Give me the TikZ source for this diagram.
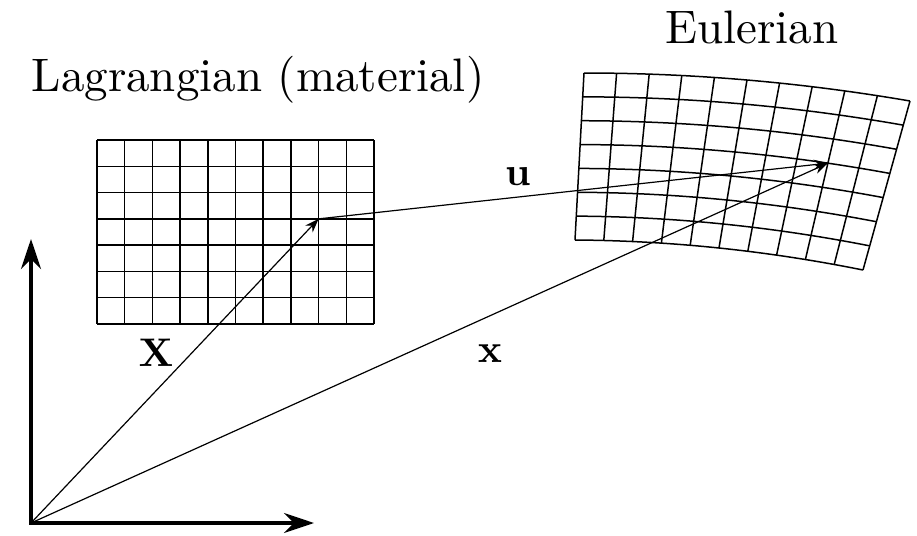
\documentclass[tikz,border=0pt]{standalone}
\usetikzlibrary{arrows.meta}

\begin{document}
\begin{tikzpicture}[x=0.5pt,y=-0.5pt,
    meshline/.style={line width=0.75pt},
    vec/.style={line width=0.6pt,-{Stealth[length=7pt,width=5pt]}},
    axisline/.style={line width=1.6pt,
      {Stealth[length=15pt,width=10pt]}-{Stealth[length=15pt,width=10pt]}},
    heading/.style={scale=2.35,anchor=base,inner sep=0pt},
    veclabel/.style={scale=2,anchor=base,inner sep=0pt},
    declare function={
      eulx(\a,\b)=(1-\a)*(1-\b)*584+\a*(1-\b)*910+\a*\b*863+(1-\a)*\b*575;
      euly(\a,\b)=(1-\a)*(1-\b)*73+\a*(1-\b)*101+\a*\b*270+(1-\a)*\b*240-28*\a*(1-\a);}]
  \useasboundingbox (0,0) rectangle (917,536);
  \foreach \i in {0,...,10}
    \draw[meshline] ({97+27.7*\i},140) -- ({97+27.7*\i},324);
  \foreach \j in {0,...,7}
    \draw[meshline] (97,{140+184/7*\j}) -- (374,{140+184/7*\j});
  \foreach \i in {0,...,10}
    \draw[meshline] ({eulx(\i/10,0)},{euly(\i/10,0)}) -- ({eulx(\i/10,1)},{euly(\i/10,1)});
  \foreach \j in {0,...,7}
    \draw[meshline] plot[domain=0:1,samples=30,variable=\a] ({eulx(\a,\j/7)},{euly(\a,\j/7)});
  \node[heading] (lagrange) at (258,91) {Lagrangian (material)};
  \node[heading] (euler) at (752,43) {Eulerian};
  \coordinate (origin) at (31,523);
  \coordinate (xend) at (314,523);
  \coordinate (yend) at (31,239);
  \coordinate (material) at ({97+27.7*8},{140+184/7*3});
  \coordinate (spatial) at ({eulx(0.8,3/7)},{euly(0.8,3/7)});
  \draw[axisline] (yend) -- (origin) -- (xend);
  \draw[vec] (origin) -- (material);
  \draw[vec] (origin) -- (spatial);
  \draw[vec] (material) -- (spatial);
  \node[veclabel] (Xlabel) at (156,366) {$\mathbf{X}$};
  \node[veclabel] (xlabel) at (490,362) {$\mathbf{x}$};
  \node[veclabel] (ulabel) at (518,185) {$\mathbf{u}$};
\end{tikzpicture}
\end{document}
